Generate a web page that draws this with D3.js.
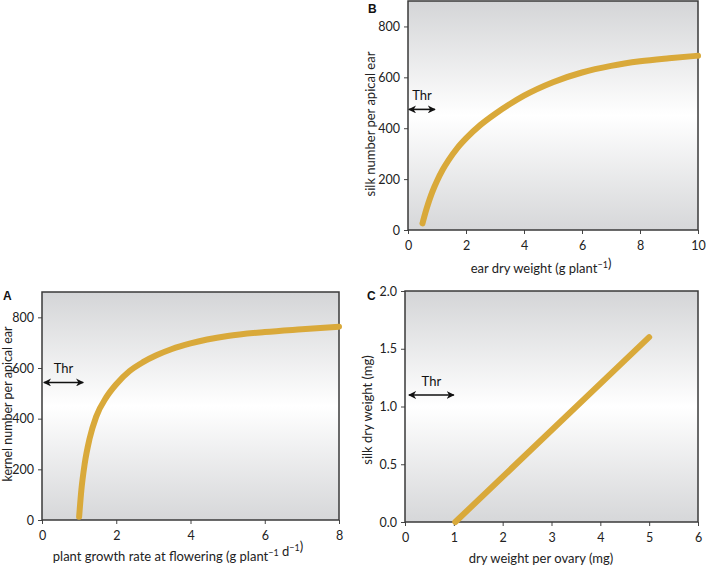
<!DOCTYPE html>
<html><head><meta charset="utf-8">
<script src="https://cdn.jsdelivr.net/npm/d3@7"></script>
<style>body{margin:0;background:#fff;} svg{display:block;font-family:Lato,"Open Sans",sans-serif;}</style>
</head><body>
<svg id="chart" width="708" height="571"></svg>
<script>
// Panel B: ear dry weight vs silk number
const earDryWeight = [0.5, 0.6, 0.7, 0.8, 0.9, 1.0, 1.2, 1.4, 1.7, 2, 2.5, 3, 3.5, 4, 5, 6, 7, 8, 9, 10];
const silkNumber   = [26, 68, 105, 138, 167, 193, 238, 275, 322, 360, 413, 456, 494, 528, 581, 619, 645, 663, 675, 685];
// Panel A: plant growth rate vs kernel number
const plantGrowthRate = [1.0, 1.06, 1.15, 1.28, 1.46, 1.73, 2.0, 2.36, 2.72, 3.08, 3.5, 4, 5, 6, 7, 8];
const kernelNumber    = [13, 118, 222, 320, 408, 484, 536, 588, 623, 650, 675, 697, 726, 742, 753, 763];
// Panel C: dry weight per ovary vs silk dry weight
const ovaryDryWeight = [1.03, 5];
const silkDryWeight  = [0.0, 1.6];

const ticksB_x = [0, 2, 4, 6, 8, 10], ticksB_y = [0, 200, 400, 600, 800];
const ticksA_x = [0, 2, 4, 6, 8],     ticksA_y = [0, 200, 400, 600, 800];
const ticksC_x = [0, 1, 2, 3, 4, 5, 6], ticksC_y = [0, 0.5, 1.0, 1.5, 2.0];

const thrB = {x0: 0.03, x1: 0.93, y: 474};
const thrA = {x0: 0.05, x1: 1.11, y: 543};
const thrC = {x0: 0.08, x1: 1.0, y: 1.1};

const svg = d3.select("#chart");
const defs = svg.append("defs");
const grad = defs.append("linearGradient").attr("id","bg").attr("x1",0).attr("y1",0).attr("x2",0).attr("y2",1);
grad.append("stop").attr("offset","0%").attr("stop-color","#d4d5d7");
grad.append("stop").attr("offset","50%").attr("stop-color","#ffffff");
grad.append("stop").attr("offset","100%").attr("stop-color","#d6d7d9");
const mk = defs.append("marker").attr("id","arr").attr("viewBox","0 0 10 10").attr("refX",9).attr("refY",5)
  .attr("markerWidth",5).attr("markerHeight",5).attr("orient","auto-start-reverse").attr("markerUnits","strokeWidth");
mk.append("path").attr("d","M0,0L10,5L0,10L3,5Z").attr("fill","#111");

function panel(o) {
  const g = svg.append("g");
  const x = d3.scaleLinear().domain(o.xDomain).range([o.left, o.right]);
  const y = d3.scaleLinear().domain(o.yDomain).range([o.bottom, o.top]);
  g.append("rect").attr("x",o.left).attr("y",o.top).attr("width",o.right-o.left).attr("height",o.bottom-o.top)
    .attr("fill","url(#bg)");
  const xa = g.append("g").attr("transform",`translate(0,${o.bottom})`)
    .call(d3.axisBottom(x).tickValues(o.xTicks).tickSize(4).tickPadding(7).tickFormat(o.xFmt || d3.format("d")));
  const ya = g.append("g").attr("transform",`translate(${o.left},0)`)
    .call(d3.axisLeft(y).tickValues(o.yTicks).tickSize(4).tickPadding(4).tickFormat(o.yFmt || d3.format("d")));
  [xa, ya].forEach(a => {
    a.select(".domain").remove();
    a.selectAll("line").attr("stroke","#444");
    a.selectAll("text").attr("font-size",12.5).attr("fill","#222").attr("font-family","Lato, sans-serif");
  });
  g.append("rect").attr("x",o.left).attr("y",o.top).attr("width",o.right-o.left).attr("height",o.bottom-o.top)
    .attr("fill","none").attr("stroke","#3a3a3a").attr("stroke-width",1.5);
  const pts = o.xs.map((v,i)=>[v,o.ys[i]]);
  g.append("path").attr("d", d3.line().x(d=>x(d[0])).y(d=>y(d[1])).curve(d3.curveMonotoneX)(pts))
    .attr("fill","none").attr("stroke","#d9a93a").attr("stroke-width",6).attr("stroke-linecap","round");
  // Thr arrow
  g.append("line").attr("x1",x(o.thr.x0)).attr("x2",x(o.thr.x1)).attr("y1",y(o.thr.y)).attr("y2",y(o.thr.y))
    .attr("stroke","#111").attr("stroke-width",1.6).attr("marker-start","url(#arr)").attr("marker-end","url(#arr)");
  g.append("text").attr("x",(x(o.thr.x0)+x(o.thr.x1))/2).attr("y",y(o.thr.y)-9).attr("text-anchor","middle")
    .attr("font-size",13).attr("fill","#111").text("Thr");
  // labels
  const xl = g.append("text").attr("x",o.xLabelX).attr("y",o.xLabelY).attr("text-anchor","middle")
    .attr("font-size",13).attr("fill","#222");
  o.xLabel(xl);
  g.append("text").attr("transform",`translate(${o.yLabelX},${o.yLabelY}) rotate(-90)`)
    .attr("text-anchor","middle").attr("font-size",o.yLabelSize || 13).attr("fill","#222").text(o.yLabel);
  g.append("text").attr("x",o.letterX).attr("y",o.letterY).attr("font-size",12).attr("font-weight","bold")
    .attr("font-family","Liberation Sans, Arial, sans-serif").attr("fill","#111").text(o.letter);
}
function sup(t, s){ t.append("tspan").attr("font-size",9).attr("dy",-5).text(s); t.append("tspan").attr("dy",5).text(""); }

panel({left:408, right:698, top:1, bottom:230, xDomain:[0,10], yDomain:[0,900], xTicks:ticksB_x, yTicks:ticksB_y,
  xs:earDryWeight, ys:silkNumber, thr:thrB, xLabelX:541, xLabelY:273, yLabelX:375, yLabelY:124,
  yLabel:"silk number per apical ear", letter:"B", letterX:368, letterY:13,
  xLabel: t => { t.append("tspan").text("ear dry weight (g plant"); sup(t,"−1"); t.append("tspan").text(")"); }});

panel({left:42, right:339, top:292, bottom:520, xDomain:[0,8], yDomain:[0,900], xTicks:ticksA_x, yTicks:ticksA_y,
  xs:plantGrowthRate, ys:kernelNumber, thr:thrA, xLabelX:178, xLabelY:561, yLabelX:12, yLabelY:404, yLabelSize:12.5,
  yLabel:"kernel number per apical ear", letter:"A", letterX:3, letterY:300,
  xLabel: t => { t.append("tspan").text("plant growth rate at flowering (g plant"); sup(t,"−1");
    t.append("tspan").text(" d"); sup(t,"−1"); t.append("tspan").text(")"); }});

panel({left:405, right:698, top:291, bottom:522, xDomain:[0,6], yDomain:[0,2], xTicks:ticksC_x, yTicks:ticksC_y,
  xs:ovaryDryWeight, ys:silkDryWeight, thr:thrC, xLabelX:541, xLabelY:563, yLabelX:372, yLabelY:410,
  yLabel:"silk dry weight (mg)", letter:"C", letterX:367, letterY:300, yFmt: d3.format(".1f"),
  xLabel: t => { t.text("dry weight per ovary (mg)"); }});
</script>
</body></html>
